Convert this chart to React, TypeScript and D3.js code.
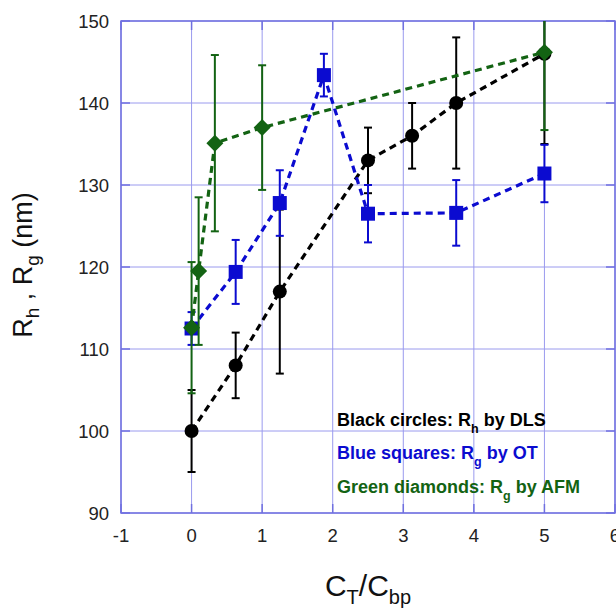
import React from "react";
import * as d3 from "d3";

const xTicks = [-1, 0, 1, 2, 3, 4, 5, 6];
const yTicks = [90, 100, 110, 120, 130, 140, 150];

const blackX = [0, 0.625, 1.25, 2.5, 3.125, 3.75, 5];
const blackY = [100, 108, 117, 133, 136, 140, 146];
const blackErr = [5, 4, 10, 4, 4, 8, 11];

const blueX = [0, 0.625, 1.25, 1.875, 2.5, 3.75, 5];
const blueY = [112.5, 119.4, 127.8, 143.4, 126.5, 126.6, 131.4];
const blueErr = [2, 3.9, 4, 2.6, 3.5, 4, 3.5];

const greenX = [0, 0.1, 0.33, 1, 5];
const greenY = [112.6, 119.5, 135.1, 137, 146.2];
const greenErr = [8, 9, 10.75, 7.6, 9.5];

const W = 616, H = 608;
const M = { left: 121, right: 615, top: 21, bottom: 513 };

const BLACK = "#000000";
const BLUE = "#0b0bd0";
const GREEN = "#136313";
const GRID = "#9a9aee";

export default function App() {
  const x = d3.scaleLinear().domain([-1, 6]).range([M.left, M.right]);
  const y = d3.scaleLinear().domain([90, 150]).range([M.bottom, M.top]);
  const line = d3.line<[number, number]>().x(d => x(d[0])).y(d => y(d[1]));
  const clampY = (v: number) => y(Math.max(90, Math.min(150, v)));

  const series = [
    { xs: blackX, ys: blackY, es: blackErr, color: BLACK, shape: "circle" },
    { xs: blueX, ys: blueY, es: blueErr, color: BLUE, shape: "square" },
    { xs: greenX, ys: greenY, es: greenErr, color: GREEN, shape: "diamond" },
  ];

  const font = "'Liberation Sans', Arial, sans-serif";

  return (
    <svg width={W} height={H} style={{ position: "absolute", left: 0, top: 0, background: "#fff" }} fontFamily={font}>
      <defs>
        <clipPath id="plotclip">
          <rect x={M.left} y={M.top} width={M.right - M.left} height={M.bottom - M.top} />
        </clipPath>
      </defs>
      {/* grid */}
      {xTicks.map(t => (
        <line key={"gx" + t} x1={x(t)} x2={x(t)} y1={M.top} y2={M.bottom} stroke={GRID} strokeWidth={1} />
      ))}
      {yTicks.map(t => (
        <line key={"gy" + t} x1={M.left} x2={M.right} y1={y(t)} y2={y(t)} stroke={GRID} strokeWidth={1} />
      ))}
      <rect x={M.left} y={M.top} width={M.right - M.left} height={M.bottom - M.top} fill="none" stroke="#7070e0" strokeWidth={1.5} />
      {/* inner ticks */}
      {yTicks.map(t => (
        <g key={"ty" + t}>
          <line x1={M.left} x2={M.left + 9} y1={y(t)} y2={y(t)} stroke="#7070e0" strokeWidth={1.5} />
          <line x1={M.right - 9} x2={M.right} y1={y(t)} y2={y(t)} stroke="#7070e0" strokeWidth={1.5} />
        </g>
      ))}
      {xTicks.map(t => (
        <g key={"tx" + t}>
          <line x1={x(t)} x2={x(t)} y1={M.bottom} y2={M.bottom - 9} stroke="#7070e0" strokeWidth={1.5} />
          <line x1={x(t)} x2={x(t)} y1={M.top} y2={M.top + 9} stroke="#7070e0" strokeWidth={1.5} />
        </g>
      ))}
      {/* tick labels */}
      {yTicks.map(t => (
        <text key={"ly" + t} x={109} y={y(t)} dy="0.36em" textAnchor="end" fontSize={18.5} fill="#222">{t}</text>
      ))}
      {xTicks.map(t => (
        <text key={"lx" + t} x={x(t)} y={542} textAnchor="middle" fontSize={18.5} fill="#222">{t}</text>
      ))}

      <g clipPath="url(#plotclip)">
        {series.map((s, si) => {
          const pts = s.xs.map((xv, i) => [xv, s.ys[i]] as [number, number]);
          return (
            <g key={"s" + si}>
              {pts.map((p, i) => (
                <g key={"e" + i} stroke={s.color} strokeWidth={2}>
                  <line x1={x(p[0])} x2={x(p[0])} y1={clampY(p[1] - s.es[i])} y2={y(p[1] + s.es[i])} />
                  {p[1] + s.es[i] <= 150 && (
                    <line x1={x(p[0]) - 4} x2={x(p[0]) + 4} y1={y(p[1] + s.es[i])} y2={y(p[1] + s.es[i])} />
                  )}
                  <line x1={x(p[0]) - 4} x2={x(p[0]) + 4} y1={y(p[1] - s.es[i])} y2={y(p[1] - s.es[i])} />
                </g>
              ))}
              <path d={line(pts) || ""} fill="none" stroke={s.color} strokeWidth={3.2} strokeDasharray="7 5" />
              {pts.map((p, i) => {
                const cx = x(p[0]), cy = y(p[1]);
                if (s.shape === "circle") return <circle key={"m" + i} cx={cx} cy={cy} r={7} fill={s.color} />;
                if (s.shape === "square") return <rect key={"m" + i} x={cx - 7} y={cy - 7} width={14} height={14} fill={s.color} />;
                return <path key={"m" + i} d={`M${cx},${cy - 8.5}L${cx + 8.5},${cy}L${cx},${cy + 8.5}L${cx - 8.5},${cy}Z`} fill={s.color} />;
              })}
            </g>
          );
        })}
      </g>

      {/* legend */}
      <g fontSize={18} fontWeight="bold">
        <text x={337} y={426} fill={BLACK}>Black circles: R<tspan fontSize={12.5} dy={7}>h</tspan><tspan dy={-7}> by DLS</tspan></text>
        <text x={337} y={459} fill={BLUE}>Blue squares: R<tspan fontSize={12.5} dy={7}>g</tspan><tspan dy={-7}> by OT</tspan></text>
        <text x={337} y={493} fill={GREEN}>Green diamonds: R<tspan fontSize={12.5} dy={7}>g</tspan><tspan dy={-7}> by AFM</tspan></text>
      </g>

      {/* axis titles */}
      <text x={368} y={596} textAnchor="middle" fontSize={30} fill="#111">C<tspan fontSize={20} dy={8}>T</tspan><tspan dy={-8}>/C</tspan><tspan fontSize={20} dy={8}>bp</tspan></text>
      <text transform={`translate(32,265) rotate(-90)`} textAnchor="middle" fontSize={27} fill="#111">R<tspan fontSize={19} dy={7}>h</tspan><tspan dy={-7}> , R</tspan><tspan fontSize={19} dy={7}>g</tspan><tspan dy={-7}> (nm)</tspan></text>
    </svg>
  );
}
